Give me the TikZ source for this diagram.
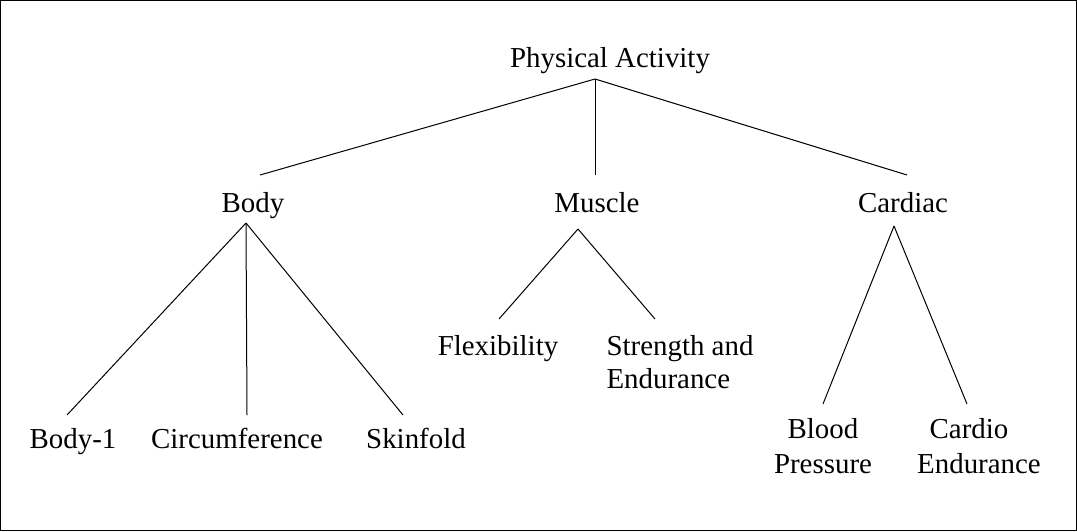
\documentclass[tikz,border=0pt]{standalone}
\usepackage{fontspec}
\setmainfont{Liberation Serif}
\begin{document}
\begin{tikzpicture}[x=0.5pt,y=-0.5pt,
  lbl/.style={inner sep=0pt,anchor=base,font=\fontsize{14.45}{17.2}\selectfont},
  conn/.style={line width=0.5pt,draw=black}]
\useasboundingbox (0,0) rectangle (1077,531);
\draw[line width=0.5pt] (0.5,0.5) rectangle (1076.5,530.5);
% labels
\node[lbl] (pa) at (610,67) {Physical Activity};
\node[lbl] (body) at (253,212) {Body};
\node[lbl] (muscle) at (597,212) {Muscle};
\node[lbl] (cardiac) at (903,212) {Cardiac};
\node[lbl] (flex) at (498,355) {Flexibility};
\node[lbl,align=left,font=\fontsize{14.45}{16.5}\selectfont] (str) at (680,388) {Strength and\\Endurance};
\node[lbl] (body1) at (73,448) {Body-1};
\node[lbl] (circ) at (237,448) {Circumference};
\node[lbl] (skin) at (416,448) {Skinfold};
\node[lbl,align=center] (bp) at (823,473) {Blood\\Pressure};
\node[lbl,align=center] (ce) at (979,473) {Cardio\hspace*{10pt}\\Endurance};
% connector points
\coordinate (pa-b) at (595,79);
\coordinate (body-t) at (260,175);
\coordinate (muscle-t) at (595,175);
\coordinate (cardiac-t) at (907,175);
\coordinate (body-b) at (246,223);
\coordinate (body1-t) at (67,415);
\coordinate (circ-t) at (247,415);
\coordinate (skin-t) at (403,415);
\coordinate (muscle-b) at (578,229);
\coordinate (flex-t) at (499,319);
\coordinate (str-t) at (655,319);
\coordinate (cardiac-b) at (894,226);
\coordinate (bp-t) at (823,404);
\coordinate (ce-t) at (967,404);
% connectors
\draw[conn] (pa-b) -- (body-t);
\draw[conn] (pa-b) -- (muscle-t);
\draw[conn] (pa-b) -- (cardiac-t);
\draw[conn] (body-b) -- (body1-t);
\draw[conn] (body-b) -- (circ-t);
\draw[conn] (body-b) -- (skin-t);
\draw[conn] (muscle-b) -- (flex-t);
\draw[conn] (muscle-b) -- (str-t);
\draw[conn] (cardiac-b) -- (bp-t);
\draw[conn] (cardiac-b) -- (ce-t);
\end{tikzpicture}
\end{document}
